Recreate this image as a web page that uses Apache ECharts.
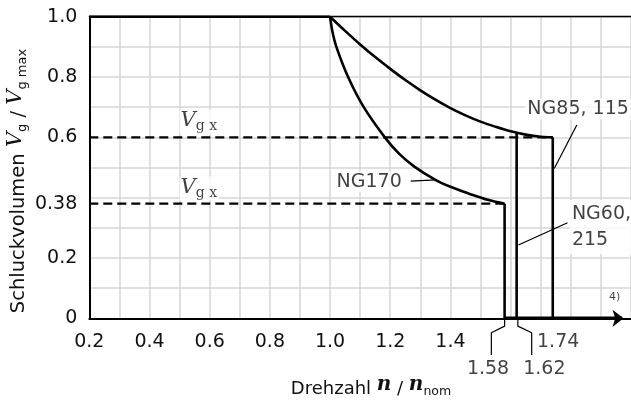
<!DOCTYPE html>
<html><head><meta charset="utf-8">
<script src="https://cdn.jsdelivr.net/npm/echarts@6/dist/echarts.min.js"></script>
<style>html,body{margin:0;padding:0;background:#fff}#c{width:631px;height:401px}</style>
</head><body><div id="c"></div>
<script>
// ---- data ----
const xTickValues = [0.2, 0.4, 0.6, 0.8, 1.0, 1.2, 1.4];
const xTickLabels = ['0.2', '0.4', '0.6', '0.8', '1.0', '1.2', '1.4'];
const yTickValues = [0, 0.2, 0.38, 0.6, 0.8, 1.0];
const yTickLabels = ['0', '0.2', '0.38', '0.6', '0.8', '1.0'];

const topLine = [[0.2, 1.0], [1.0, 1.0]];
const curveNG85 = [[1.0, 1.0], [1.05, 0.953], [1.10, 0.908], [1.15, 0.866], [1.20, 0.827], [1.25, 0.790], [1.30, 0.756], [1.35, 0.725], [1.40, 0.697], [1.45, 0.673], [1.50, 0.652], [1.55, 0.635], [1.60, 0.620], [1.65, 0.609], [1.70, 0.602], [1.74, 0.600]];
const dropNG85 = [[1.74, 0.60], [1.74, 0]];
const dropNG60 = [[1.62, 0.614], [1.62, 0]];
const curveNG170 = [[1.0, 1.0], [1.008, 0.95], [1.021, 0.9], [1.06, 0.8], [1.112, 0.7], [1.182, 0.6], [1.23, 0.545], [1.28, 0.503], [1.35, 0.459], [1.40, 0.436], [1.46, 0.414], [1.527, 0.392], [1.58, 0.38]];
const dropNG170 = [[1.58, 0.38], [1.58, 0]];
const limit060 = [[0.2, 0.6], [1.74, 0.6]];
const limit038 = [[0.2, 0.38], [1.58, 0.38]];
const cutoffAxis = [[1.58, 0], [1.97, 0]];

const leaderNG170 = [[1.268, 0.455], [1.35, 0.459]];
const leaderNG85 = [[1.82, 0.641], [1.745, 0.497]];
const leaderNG60 = [[1.789, 0.317], [1.626, 0.243]];
const bracket158 = [[1.58, 0], [1.58, -0.026], [1.536, -0.048], [1.536, -0.122]];
const bracket162 = [[1.624, 0], [1.624, -0.026], [1.670, -0.048], [1.670, -0.122]];

// ---- chart ----
const SANS = 'DejaVu Sans';
const SERIF = 'DejaVu Serif';
const TXT = '#111';

function near(v, arr) { for (let i = 0; i < arr.length; i++) { if (Math.abs(v - arr[i]) < 1e-6) return i; } return -1; }

function line(data, extra) {
  return Object.assign({
    type: 'line', data: data, symbol: 'none', silent: true, clip: false, animation: false,
    lineStyle: { color: '#000', width: 2.6 }, z: 3
  }, extra || {});
}
function note(pos, text, lab) {
  return {
    type: 'scatter', data: [pos], symbolSize: 1, clip: false, silent: true, animation: false,
    itemStyle: { color: 'rgba(0,0,0,0)' }, z: 5,
    label: Object.assign({
      show: true, position: 'inside', formatter: text, color: TXT,
      fontFamily: SANS, fontSize: 19
    }, lab || {})
  };
}

const vgxRich = {
  v: { fontFamily: SERIF, fontStyle: 'italic', fontSize: 21, color: TXT, verticalAlign: 'bottom', lineHeight: 24, padding: [0, 0, 3, 0] },
  s: { fontFamily: SERIF, fontSize: 14, color: TXT, verticalAlign: 'bottom', lineHeight: 18 }
};

const option = {
  backgroundColor: '#fff',
  animation: false,
  grid: { left: 89.3, top: 16.7, width: 543.6, height: 301.6, containLabel: false },
  xAxis: [{
    type: 'value', min: 0.2, max: 2.0, interval: 0.1,
    axisLine: { show: true, lineStyle: { color: '#000', width: 2 }, symbol: ['none', 'arrow'], symbolSize: [13, 11], symbolOffset: [0, -7.5] },
    axisTick: { show: false },
    splitLine: { show: true, lineStyle: { color: '#d6d6d6', width: 1.5 } },
    axisLabel: {
      customValues: xTickValues, margin: 14, color: TXT, fontFamily: SANS, fontSize: 19,
      formatter: function (v) { const i = near(v, xTickValues); return i >= 0 ? xTickLabels[i] : ''; }
    }
  }, {
    type: 'value', position: 'top', min: 0.2, max: 2.0,
    axisLine: { show: true, lineStyle: { color: '#000', width: 1.3 } },
    axisTick: { show: false }, axisLabel: { show: false }, splitLine: { show: false }
  }],
  yAxis: {
    type: 'value', min: 0, max: 1.0, interval: 0.1,
    axisLine: { show: true, lineStyle: { color: '#000', width: 2 } },
    axisTick: { show: false },
    splitLine: { show: true, lineStyle: { color: '#d6d6d6', width: 1.5 } },
    axisLabel: {
      customValues: yTickValues, margin: 12, color: TXT, fontFamily: SANS, fontSize: 19,
      padding: [5, 0, 0, 0],
      formatter: function (v) { const i = near(v, yTickValues); return i >= 0 ? yTickLabels[i] : ''; }
    }
  },
  graphic: [{
    type: 'text', x: 17, y: 181, rotation: Math.PI / 2, silent: true,
    style: {
      text: '{t|Schluckvolumen }{v|V}{s|g}{t| / }{v|V}{s|g max}',
      align: 'center', verticalAlign: 'middle',
      rich: {
        t: { fontFamily: SANS, fontSize: 19.5, fill: TXT, color: TXT, verticalAlign: 'bottom', lineHeight: 24 },
        v: { fontFamily: SERIF, fontStyle: 'italic', fontSize: 21, fill: TXT, color: TXT, verticalAlign: 'bottom', lineHeight: 24, padding: [0, 0, 3, 0] },
        s: { fontFamily: SANS, fontSize: 13, fill: TXT, color: TXT, verticalAlign: 'bottom', lineHeight: 17 }
      }
    }
  }, {
    type: 'text', x: 371, y: 387, silent: true,
    style: {
      text: '{t|Drehzahl }{n|n}{t| / }{n|n}{s|nom}',
      align: 'center', verticalAlign: 'middle',
      rich: {
        t: { fontFamily: SANS, fontSize: 18, fill: TXT, color: TXT, verticalAlign: 'bottom', lineHeight: 22 },
        n: { fontFamily: SERIF, fontStyle: 'italic', fontWeight: 'bold', fontSize: 20, fill: TXT, color: TXT, verticalAlign: 'bottom', lineHeight: 22, padding: [0, 0, 3, 0] },
        s: { fontFamily: SANS, fontSize: 12.5, fill: TXT, color: TXT, verticalAlign: 'bottom', lineHeight: 16 }
      }
    }
  }],
  series: [
    line(limit060, { lineStyle: { color: '#000', width: 2.2, type: [9, 5] }, z: 2 }),
    line(limit038, { lineStyle: { color: '#000', width: 2.2, type: [9, 5] }, z: 2 }),
    line(topLine),
    line(curveNG85, { smooth: 0.35 }),
    line(dropNG85),
    line(dropNG60),
    line(curveNG170, { smooth: 0.35 }),
    line(dropNG170),
    line(cutoffAxis, { lineStyle: { color: '#000', width: 3.6 } }),
    line(leaderNG170, { lineStyle: { color: '#000', width: 1.2 } }),
    line(leaderNG85, { lineStyle: { color: '#000', width: 1.2 } }),
    line(leaderNG60, { lineStyle: { color: '#000', width: 1.2 } }),
    line(bracket158, { lineStyle: { color: '#000', width: 1.2 } }),
    line(bracket162, { lineStyle: { color: '#000', width: 1.2 } }),
    note([0.50, 0.652], '{v|V}{s|g x}', { align: 'left', verticalAlign: 'middle', rich: vgxRich, backgroundColor: '#fff', padding: [0, 2, 0, 1] }),
    note([0.50, 0.43], '{v|V}{s|g x}', { align: 'left', verticalAlign: 'middle', rich: vgxRich, backgroundColor: '#fff', padding: [0, 2, 0, 1] }),
    note([1.245, 0.452], 'NG170', { align: 'right', verticalAlign: 'middle', backgroundColor: '#fff', padding: [1, 2, 1, 2] }),
    note([1.649, 0.694], 'NG85, 115', { align: 'left', verticalAlign: 'middle', backgroundColor: '#fff', padding: [1, 2, 1, 2] }),
    note([1.797, 0.303], 'NG60,\n215', { align: 'left', verticalAlign: 'middle', lineHeight: 26, backgroundColor: '#fff', padding: [1, 2, 1, 2] }),
    note([1.946, 0.069], '4)', { align: 'center', verticalAlign: 'middle', fontSize: 11 }),
    note([1.525, -0.168], '1.58', { align: 'center', verticalAlign: 'middle' }),
    note([1.712, -0.168], '1.62', { align: 'center', verticalAlign: 'middle' }),
    note([1.758, -0.08], '1.74', { align: 'center', verticalAlign: 'middle' })
  ]
};

const chart = echarts.init(document.getElementById('c'), null, { renderer: 'canvas' });
chart.setOption(option);
</script>
</body></html>
